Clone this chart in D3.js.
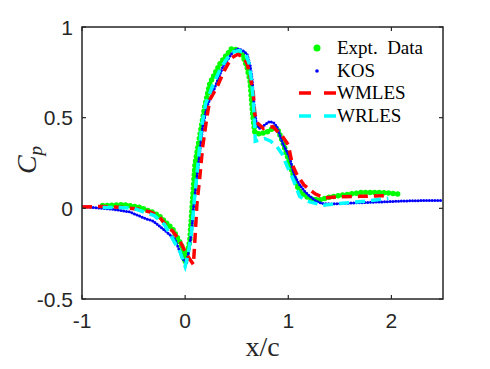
<!DOCTYPE html>
<html>
<head>
<meta charset="utf-8">
<script src="https://cdn.jsdelivr.net/npm/d3@7"></script>
<style>
  body { margin: 0; background: #fff; }
  svg { display: block; }
</style>
</head>
<body>
<svg id="chart" width="490" height="369"></svg>
<script>
// Expt. Data
const exptX = [-0.8, -0.6, -0.44, -0.3, -0.245, -0.12, -0.03, 0.0, 0.045, 0.075, 0.095, 0.16, 0.19, 0.24, 0.34, 0.45, 0.5, 0.55, 0.6, 0.63, 0.655, 0.675, 0.72, 0.79, 0.85, 0.89, 0.95, 0.995, 1.04, 1.08, 1.11, 1.2, 1.3, 1.4, 1.55, 1.72, 1.9, 2.1];
const exptY = [0.015, 0.02, 0.005, -0.025, -0.045, -0.115, -0.21, -0.3, -0.18, 0.07, 0.24, 0.46, 0.56, 0.69, 0.8, 0.88, 0.875, 0.855, 0.78, 0.7, 0.52, 0.42, 0.41, 0.42, 0.44, 0.445, 0.36, 0.28, 0.2, 0.13, 0.095, 0.055, 0.045, 0.062, 0.075, 0.088, 0.088, 0.077];

// KOS
const kosX = [-1, -0.7, -0.535, -0.37, -0.31, -0.18, -0.1, -0.05, -0.02, 0.015, 0.04, 0.065, 0.08, 0.1, 0.13, 0.17, 0.21, 0.29, 0.365, 0.46, 0.51, 0.56, 0.6, 0.63, 0.65, 0.67, 0.69, 0.72, 0.77, 0.82, 0.86, 0.89, 0.945, 1.01, 1.06, 1.11, 1.16, 1.21, 1.27, 1.33, 1.42, 1.5, 1.65, 1.88, 2.1, 2.3, 2.5];
const kosY = [0.01, -0.005, -0.02, -0.06, -0.07, -0.13, -0.17, -0.24, -0.28, -0.3, -0.22, -0.12, 0.0, 0.1, 0.25, 0.45, 0.56, 0.67, 0.78, 0.86, 0.88, 0.87, 0.85, 0.79, 0.71, 0.56, 0.47, 0.44, 0.46, 0.48, 0.47, 0.45, 0.36, 0.285, 0.18, 0.13, 0.093, 0.066, 0.04, 0.027, 0.024, 0.027, 0.03, 0.035, 0.04, 0.043, 0.044];

// WMLES
const wmlesX = [-1, -0.8, -0.6, -0.45, -0.34, -0.25, -0.18, -0.12, -0.05, 0.0, 0.045, 0.08, 0.09, 0.1, 0.115, 0.14, 0.17, 0.21, 0.24, 0.31, 0.38, 0.45, 0.51, 0.56, 0.6, 0.63, 0.66, 0.675, 0.7, 0.76, 0.85, 0.94, 1.0, 1.04, 1.08, 1.15, 1.26, 1.35, 1.5, 1.7, 1.97];
const wmlesY = [0.008, 0.01, 0.005, -0.005, -0.02, -0.045, -0.1, -0.126, -0.18, -0.24, -0.28, -0.31, -0.22, -0.12, 0.03, 0.16, 0.34, 0.5, 0.6, 0.67, 0.76, 0.83, 0.85, 0.835, 0.8, 0.73, 0.64, 0.52, 0.47, 0.44, 0.45, 0.4, 0.35, 0.24, 0.19, 0.13, 0.08, 0.058, 0.064, 0.066, 0.07];

// WRLES
const wrlesX = [-0.8, -0.65, -0.5, -0.3, -0.2, -0.12, -0.05, 0.0, 0.03, 0.06, 0.09, 0.12, 0.16, 0.2, 0.27, 0.35, 0.45, 0.52, 0.58, 0.62, 0.635, 0.655, 0.67, 0.68, 0.77, 0.83, 0.89, 0.94, 0.99, 1.04, 1.11, 1.18, 1.33, 1.5, 1.76, 1.97];
const wrlesY = [0.005, 0.005, 0.0, -0.04, -0.09, -0.17, -0.24, -0.32, -0.25, -0.14, 0.05, 0.22, 0.45, 0.58, 0.68, 0.78, 0.86, 0.87, 0.86, 0.8, 0.74, 0.64, 0.5, 0.37, 0.385, 0.37, 0.34, 0.3, 0.23, 0.17, 0.066, 0.04, 0.017, 0.027, 0.04, 0.055];

const xTicks = [-1, 0, 1, 2];
const yTicks = [-0.5, 0, 0.5, 1];
const legendNames = ['Expt. Data', 'KOS', 'WMLES', 'WRLES'];

const svg = d3.select('#chart');
const pLeft = 82, pRight = 443, pTop = 27, pBottom = 299;
const axisColor = '#262626';

const x = d3.scaleLinear().domain([-1, 2.5]).range([pLeft, pRight]);
const y = d3.scaleLinear().domain([-0.5, 1]).range([pBottom, pTop]);

svg.append('clipPath').attr('id', 'clip')
  .append('rect')
  .attr('x', pLeft).attr('y', pTop)
  .attr('width', pRight - pLeft).attr('height', pBottom - pTop);

const zip = (xs, ys) => xs.map((v, i) => [v, ys[i]]);
const line = d3.line().x(d => x(d[0])).y(d => y(d[1]));

const plot = svg.append('g').attr('clip-path', 'url(#clip)');

// experiment: big green dots
plot.append('path')
  .attr('d', line(zip(exptX, exptY)))
  .attr('fill', 'none')
  .attr('stroke', '#00ff00')
  .attr('stroke-width', 5.5)
  .attr('stroke-linecap', 'round')
  .attr('stroke-dasharray', '0 4.6');

// KOS: small blue dots
plot.append('path')
  .attr('d', line(zip(kosX, kosY)))
  .attr('fill', 'none')
  .attr('stroke', '#0000ff')
  .attr('stroke-width', 3)
  .attr('stroke-linecap', 'round')
  .attr('stroke-dasharray', '0 2.8');

plot.append('path')
  .attr('d', line(zip(wmlesX, wmlesY)))
  .attr('fill', 'none')
  .attr('stroke', '#ff0000')
  .attr('stroke-width', 3.5)
  .attr('stroke-dasharray', '10 6');

plot.append('path')
  .attr('d', line(zip(wrlesX, wrlesY)))
  .attr('fill', 'none')
  .attr('stroke', '#00ffff')
  .attr('stroke-width', 3.5)
  .attr('stroke-dasharray', '10 6');

// box + ticks
svg.append('rect')
  .attr('x', pLeft).attr('y', pTop)
  .attr('width', pRight - pLeft).attr('height', pBottom - pTop)
  .attr('fill', 'none').attr('stroke', axisColor).attr('stroke-width', 1.5);

const tickLen = 4;
xTicks.forEach(t => {
  svg.append('line').attr('x1', x(t)).attr('x2', x(t)).attr('y1', pBottom).attr('y2', pBottom - tickLen)
    .attr('stroke', axisColor).attr('stroke-width', 1.2);
  svg.append('line').attr('x1', x(t)).attr('x2', x(t)).attr('y1', pTop).attr('y2', pTop + tickLen)
    .attr('stroke', axisColor).attr('stroke-width', 1.2);
  svg.append('text')
    .attr('x', x(t)).attr('y', 328)
    .attr('text-anchor', 'middle')
    .attr('font-family', 'Liberation Sans, Arial, sans-serif')
    .attr('font-size', 21)
    .attr('fill', axisColor)
    .text(t);
});
yTicks.forEach(t => {
  svg.append('line').attr('x1', pLeft).attr('x2', pLeft + tickLen).attr('y1', y(t)).attr('y2', y(t))
    .attr('stroke', axisColor).attr('stroke-width', 1.2);
  svg.append('line').attr('x1', pRight).attr('x2', pRight - tickLen).attr('y1', y(t)).attr('y2', y(t))
    .attr('stroke', axisColor).attr('stroke-width', 1.2);
  svg.append('text')
    .attr('x', 73).attr('y', y(t) + 7.5)
    .attr('text-anchor', 'end')
    .attr('font-family', 'Liberation Sans, Arial, sans-serif')
    .attr('font-size', 21)
    .attr('fill', axisColor)
    .text(t);
});

// axis labels
svg.append('text')
  .attr('x', (pLeft + pRight) / 2).attr('y', 356)
  .attr('text-anchor', 'middle')
  .attr('font-family', 'Liberation Serif, serif')
  .attr('font-size', 28)
  .attr('fill', axisColor)
  .text('x/c');

const ylab = svg.append('text')
  .attr('transform', 'translate(36,160) rotate(-90)')
  .attr('text-anchor', 'middle')
  .attr('font-family', 'Liberation Serif, serif')
  .attr('font-style', 'italic')
  .attr('font-size', 28)
  .attr('fill', axisColor);
ylab.append('tspan').text('C');
ylab.append('tspan').attr('font-size', 19).attr('dy', 6).text('p');

// legend
const legY = [48, 71, 93, 116];
const leg = svg.append('g');
leg.append('circle').attr('cx', 317).attr('cy', legY[0]).attr('r', 3.5).attr('fill', '#00ff00');
leg.append('circle').attr('cx', 317).attr('cy', legY[1]).attr('r', 1.8).attr('fill', '#0000ff');
leg.append('line').attr('x1', 299).attr('x2', 336).attr('y1', legY[2]).attr('y2', legY[2])
  .attr('stroke', '#ff0000').attr('stroke-width', 3.5).attr('stroke-dasharray', '12 13');
leg.append('line').attr('x1', 299).attr('x2', 336).attr('y1', legY[3]).attr('y2', legY[3])
  .attr('stroke', '#00ffff').attr('stroke-width', 3.5).attr('stroke-dasharray', '12 13');
legendNames.forEach((name, i) => {
  leg.append('text')
    .attr('x', 337).attr('y', legY[i] + 6)
    .attr('font-family', 'Liberation Serif, serif')
    .attr('font-size', 19)
    .attr('fill', '#000')
    .style('white-space', 'pre')
    .text(name.replace('. ', '.  '));
});
</script>
</body>
</html>
